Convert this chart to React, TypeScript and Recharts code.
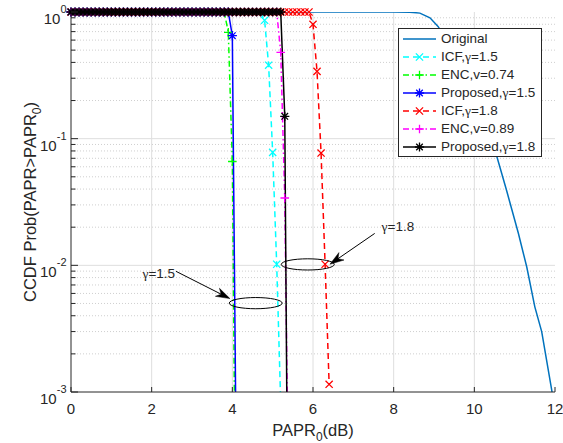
import { LineChart, Line, XAxis, YAxis, CartesianGrid, ReferenceDot, ReferenceLine } from 'recharts';

const AXIS = '#262626';
const FONT = '"Liberation Sans", Arial, Helvetica, sans-serif';
const GREEK = '"Liberation Serif", "DejaVu Serif", serif';

// PAPR0 threshold grid (dB) shared by the clipped-signal curves
const PAPR_DB = [
  0, 0.1, 0.2, 0.3, 0.4, 0.5, 0.6, 0.7, 0.8, 0.9,
  1, 1.1, 1.2, 1.3, 1.4, 1.5, 1.6, 1.7, 1.8, 1.9,
  2, 2.1, 2.2, 2.3, 2.4, 2.5, 2.6, 2.7, 2.8, 2.9,
  3, 3.1, 3.2, 3.3, 3.4, 3.5, 3.6, 3.7, 3.8, 3.9,
  4, 4.1, 4.2, 4.3, 4.4, 4.5, 4.6, 4.7, 4.8, 4.9,
  5, 5.1, 5.2, 5.3, 5.4, 5.5, 5.6, 5.7, 5.8, 5.9,
  6, 6.1, 6.2, 6.3, 6.4,
];

const ICF_15 = [
  1, 1, 1, 1, 1, 1, 1, 1, 1, 1,
  1, 1, 1, 1, 1, 1, 1, 1, 1, 1,
  1, 1, 1, 1, 1, 1, 1, 1, 1, 1,
  1, 1, 1, 1, 1, 1, 1, 1, 1, 1,
  1, 1, 1, 1, 1, 1, 1, 1, 0.86, 0.38,
  0.078, 0.0102, 0.0008,
];

const ENC_074 = [
  1, 1, 1, 1, 1, 1, 1, 1, 1, 1,
  1, 1, 1, 1, 1, 1, 1, 1, 1, 1,
  1, 1, 1, 1, 1, 1, 1, 1, 1, 1,
  1, 1, 1, 1, 1, 1, 1, 1, 1, 0.69,
  0.066, 0.000016,
];

const PROP_15 = [
  1, 1, 1, 1, 1, 1, 1, 1, 1, 1,
  1, 1, 1, 1, 1, 1, 1, 1, 1, 1,
  1, 1, 1, 1, 1, 1, 1, 1, 1, 1,
  1, 1, 1, 1, 1, 1, 1, 1, 1, 1,
  0.65, 0.0002,
];

const ICF_18 = [
  1, 1, 1, 1, 1, 1, 1, 1, 1, 1,
  1, 1, 1, 1, 1, 1, 1, 1, 1, 1,
  1, 1, 1, 1, 1, 1, 1, 1, 1, 1,
  1, 1, 1, 1, 1, 1, 1, 1, 1, 1,
  1, 1, 1, 1, 1, 1, 1, 1, 1, 1,
  1, 1, 1, 1, 1, 1, 1, 1, 1, 1,
  0.8, 0.34, 0.077, 0.0102, 0.00115,
];

const ENC_089 = [
  1, 1, 1, 1, 1, 1, 1, 1, 1, 1,
  1, 1, 1, 1, 1, 1, 1, 1, 1, 1,
  1, 1, 1, 1, 1, 1, 1, 1, 1, 1,
  1, 1, 1, 1, 1, 1, 1, 1, 1, 1,
  1, 1, 1, 1, 1, 1, 1, 1, 1, 1,
  1, 1, 0.48, 0.034, 0.0001,
];

const PROP_18 = [
  1, 1, 1, 1, 1, 1, 1, 1, 1, 1,
  1, 1, 1, 1, 1, 1, 1, 1, 1, 1,
  1, 1, 1, 1, 1, 1, 1, 1, 1, 1,
  1, 1, 1, 1, 1, 1, 1, 1, 1, 1,
  1, 1, 1, 1, 1, 1, 1, 1, 1, 1,
  1, 1, 1, 0.15, 0.000006,
];

// unclipped OFDM signal
const ORIGINAL_X = [0, 8, 8.4, 8.65, 8.9, 9.1, 9.5, 9.75, 10, 10.25, 10.56, 10.8, 11.09, 11.3, 11.5, 11.67, 11.92, 12];
const ORIGINAL_Y = [1, 1, 0.997, 0.98, 0.9, 0.77, 0.48, 0.33, 0.22, 0.139, 0.072, 0.039, 0.018, 0.0097, 0.0047, 0.003, 0.00103, 0.0007];

const X_TICKS = [0, 2, 4, 6, 8, 10, 12];
const X_GRID = [2, 4, 6, 8, 10];
const Y_MAJOR = [0.001, 0.01, 0.1, 1];
const Y_GRID = [0.01, 0.1];
const Y_MINOR = [
  0.002, 0.003, 0.004, 0.005, 0.006, 0.007, 0.008, 0.009,
  0.02, 0.03, 0.04, 0.05, 0.06, 0.07, 0.08, 0.09,
  0.2, 0.3, 0.4, 0.5, 0.6, 0.7, 0.8, 0.9,
];
const Y_TICKS = [...Y_MAJOR, ...Y_MINOR].sort((a, b) => a - b);
const EXPONENT: Record<number, string> = { 0.001: '-3', 0.01: '-2', 0.1: '-1', 1: '0' };
const Y_DOMAIN = [0.001, 1];

const toRows = (xs: number[], ys: number[]) => ys.map((y, i) => ({ x: xs[i], y }));

type Kind = 'x' | '+' | '*' | null;

const SERIES: { id: string; label: string; rows: { x: number; y: number }[]; color: string; dash?: string; marker: Kind }[] = [
  { id: 'orig', label: 'Original', rows: toRows(ORIGINAL_X, ORIGINAL_Y), color: '#0072BD', marker: null },
  { id: 'icf15', label: 'ICF,γ=1.5', rows: toRows(PAPR_DB, ICF_15), color: '#00FFFF', dash: '6 4', marker: 'x' },
  { id: 'enc074', label: 'ENC,v=0.74', rows: toRows(PAPR_DB, ENC_074), color: '#00FF00', dash: '6 3 1.5 3', marker: '+' },
  { id: 'prop15', label: 'Proposed,γ=1.5', rows: toRows(PAPR_DB, PROP_15), color: '#0000FF', marker: '*' },
  { id: 'icf18', label: 'ICF,γ=1.8', rows: toRows(PAPR_DB, ICF_18), color: '#FF0000', dash: '6 4', marker: 'x' },
  { id: 'enc089', label: 'ENC,v=0.89', rows: toRows(PAPR_DB, ENC_089), color: '#FF00FF', dash: '6 3 1.5 3', marker: '+' },
  { id: 'prop18', label: 'Proposed,γ=1.8', rows: toRows(PAPR_DB, PROP_18), color: '#000000', marker: '*' },
];

function markerPath(kind: Kind, x: number, y: number): string {
  const plus = (s: number) => `M${x - s},${y}L${x + s},${y}M${x},${y - s}L${x},${y + s}`;
  const cross = (s: number) => `M${x - s},${y - s}L${x + s},${y + s}M${x - s},${y + s}L${x + s},${y - s}`;
  if (kind === 'x') return cross(3.6);
  if (kind === '+') return plus(4.3);
  if (kind === '*') return plus(4.6) + cross(3.3);
  return '';
}

const markerDot = (kind: Kind, color: string) => (p: any) => (
  <path
    key={`dot-${p.index}`}
    d={p.cx == null || p.cy == null ? '' : markerPath(kind, p.cx, p.cy)}
    stroke={color}
    strokeWidth={1.3}
    fill="none"
  />
);

function GreekText({ text }: { text: string }) {
  const parts = text.split('γ');
  return (
    <>
      {parts.map((part, i) => (
        <tspan key={i}>
          {i > 0 && <tspan fontFamily={GREEK}>γ</tspan>}
          {part}
        </tspan>
      ))}
    </>
  );
}

function BottomTick({ x, y, payload }: any) {
  return (
    <g>
      <line x1={x} x2={x} y1={y} y2={y - 5} stroke={AXIS} />
      <text x={x} y={y + 22} textAnchor="middle" fontSize={15} fontFamily={FONT} fill={AXIS}>
        {payload.value}
      </text>
    </g>
  );
}

function TopTick({ x, y }: any) {
  return <line x1={x} x2={x} y1={y} y2={y + 5} stroke={AXIS} />;
}

function LeftTick({ x, y, payload }: any) {
  const exp = EXPONENT[payload.value];
  const len = exp ? 7 : 4.5;
  return (
    <g>
      <line x1={x} x2={x + len} y1={y} y2={y} stroke={AXIS} />
      {exp && (
        <text x={x - 4.5} y={y + 12} textAnchor="end" fontSize={15} fontFamily={FONT} fill={AXIS}>
          10
          <tspan dy={-11} fontSize={11}>
            {exp}
          </tspan>
        </text>
      )}
    </g>
  );
}

function RightTick({ x, y, payload }: any) {
  const len = EXPONENT[payload.value] ? 7 : 4.5;
  return <line x1={x} x2={x - len} y1={y} y2={y} stroke={AXIS} />;
}

function XTitle({ viewBox }: any) {
  return (
    <text x={viewBox.x + viewBox.width / 2} y={viewBox.y + 44} textAnchor="middle" fontSize={16.5} fontFamily={FONT} fill={AXIS}>
      PAPR
      <tspan dy={5} fontSize={12}>0</tspan>
      <tspan dy={-5}>(dB)</tspan>
    </text>
  );
}

function YTitle({ viewBox }: any) {
  const cx = 36;
  const cy = viewBox.y + viewBox.height / 2;
  return (
    <text x={cx} y={cy} transform={`rotate(-90, ${cx}, ${cy})`} textAnchor="middle" fontSize={16.5} fontFamily={FONT} fill={AXIS}>
      CCDF Prob(PAPR&gt;PAPR
      <tspan dy={5} fontSize={12}>0</tspan>
      <tspan dy={-5}>)</tspan>
    </text>
  );
}

function Arrow({ x1, y1, x2, y2 }: any) {
  const ang = Math.atan2(y2 - y1, x2 - x1);
  const len = 14;
  const half = 4.5;
  const ux = Math.cos(ang);
  const uy = Math.sin(ang);
  const bx = x2 - ux * len;
  const by = y2 - uy * len;
  const nx = x2 - ux * len * 0.7;
  const ny = y2 - uy * len * 0.7;
  const head = `${x2},${y2} ${bx - uy * half},${by + ux * half} ${nx},${ny} ${bx + uy * half},${by - ux * half}`;
  return (
    <g>
      <line x1={x1} y1={y1} x2={nx} y2={ny} stroke="#000" strokeWidth={1} />
      <polygon points={head} fill="#000" stroke="#000" strokeWidth={0.5} />
    </g>
  );
}

const ellipse = (p: any) => <ellipse cx={p.cx} cy={p.cy} rx={26.5} ry={5.6} fill="none" stroke="#000" strokeWidth={1} />;

const note = (text: string, anchor: 'start' | 'end') => (p: any) => (
  <text x={p.cx} y={p.cy + 5} textAnchor={anchor} fontSize={13.5} fontFamily={FONT} fill={AXIS}>
    <GreekText text={text} />
  </text>
);

function LegendSample({ color, dash, marker }: { color: string; dash?: string; marker: Kind }) {
  return (
    <svg width={42} height={18} style={{ display: 'block', flex: 'none' }}>
      <line x1={4} x2={37} y1={9} y2={9} stroke={color} strokeWidth={1.5} strokeDasharray={dash} />
      {marker && <path d={markerPath(marker, 20.5, 9)} stroke={color} strokeWidth={1.3} fill="none" />}
    </svg>
  );
}

export default function App() {
  return (
    <div style={{ position: 'absolute', left: 0, top: 0, width: 563, height: 443, background: '#fff' }}>
      <LineChart width={563} height={443} margin={{ top: 12, right: 8, bottom: 0, left: 0 }}>
        <CartesianGrid horizontal={false} verticalValues={X_GRID} stroke="#dedede" />
        <CartesianGrid vertical={false} horizontalValues={Y_GRID} stroke="#dedede" />
        <CartesianGrid vertical={false} horizontalValues={Y_MINOR} stroke="#cfcfcf" strokeDasharray="1 2" />
        <XAxis
          dataKey="x"
          type="number"
          domain={[0, 12]}
          ticks={X_TICKS}
          interval={0}
          tickSize={0}
          tickMargin={0}
          tick={BottomTick}
          axisLine={{ stroke: AXIS }}
          height={51}
          label={{ value: 'PAPR0(dB)', content: XTitle }}
        />
        <XAxis
          xAxisId="top"
          orientation="top"
          type="number"
          domain={[0, 12]}
          ticks={X_TICKS}
          interval={0}
          tickSize={0}
          tickMargin={0}
          tick={TopTick}
          axisLine={{ stroke: AXIS }}
          height={0}
        />
        <YAxis
          type="number"
          scale="log"
          domain={Y_DOMAIN}
          ticks={Y_TICKS}
          interval={0}
          tickSize={0}
          tickMargin={0}
          tick={LeftTick}
          axisLine={{ stroke: AXIS }}
          width={71}
          allowDataOverflow
          label={{ value: 'CCDF', content: YTitle }}
        />
        <YAxis
          yAxisId="right"
          orientation="right"
          type="number"
          scale="log"
          domain={Y_DOMAIN}
          ticks={Y_TICKS}
          interval={0}
          tickSize={0}
          tickMargin={0}
          tick={RightTick}
          axisLine={{ stroke: AXIS }}
          width={0}
        />
        {/* same log scale, unclipped, so markers sitting on the frame are drawn whole */}
        <YAxis yAxisId="marks" type="number" scale="log" domain={Y_DOMAIN} hide />
        {SERIES.map((s) => [
          <Line
            key={s.id}
            data={s.rows}
            dataKey="y"
            type="linear"
            stroke={s.color}
            strokeWidth={1.5}
            strokeDasharray={s.dash}
            dot={false}
            activeDot={false}
            isAnimationActive={false}
          />,
          s.marker && (
            <Line
              key={`${s.id}-marks`}
              yAxisId="marks"
              data={s.rows.filter((r) => r.y >= Y_DOMAIN[0])}
              dataKey="y"
              stroke="none"
              dot={markerDot(s.marker, s.color)}
              activeDot={false}
              isAnimationActive={false}
            />
          ),
        ])}
        <ReferenceDot x={4.58} y={0.00503} r={0} ifOverflow="visible" shape={ellipse} />
        <ReferenceDot x={5.87} y={0.01017} r={0} ifOverflow="visible" shape={ellipse} />
        <ReferenceLine segment={[{ x: 2.6, y: 0.00898 }, { x: 3.94, y: 0.00546 }]} ifOverflow="visible" shape={Arrow} />
        <ReferenceLine segment={[{ x: 7.53, y: 0.01786 }, { x: 6.42, y: 0.0102 }]} ifOverflow="visible" shape={Arrow} />
        <ReferenceDot x={2.58} y={0.00874} r={0} ifOverflow="visible" shape={note('γ=1.5', 'end')} />
        <ReferenceDot x={7.7} y={0.0204} r={0} ifOverflow="visible" shape={note('γ=1.8', 'start')} />
      </LineChart>
      <div
        style={{
          position: 'absolute',
          left: 398,
          top: 28,
          width: 144,
          height: 129,
          boxSizing: 'border-box',
          border: `1px solid ${AXIS}`,
          background: '#fff',
          paddingTop: 1,
          fontFamily: FONT,
          fontSize: 13.5,
          color: AXIS,
        }}
      >
        {SERIES.map((s) => {
          const parts = s.label.split('γ');
          return (
            <div key={s.id} style={{ display: 'flex', alignItems: 'center', height: 18, whiteSpace: 'nowrap' }}>
              <LegendSample color={s.color} dash={s.dash} marker={s.marker} />
              <span style={{ lineHeight: '18px' }}>
                {parts[0]}
                {parts.length > 1 && <span style={{ fontFamily: GREEK }}>γ</span>}
                {parts[1]}
              </span>
            </div>
          );
        })}
      </div>
    </div>
  );
}
